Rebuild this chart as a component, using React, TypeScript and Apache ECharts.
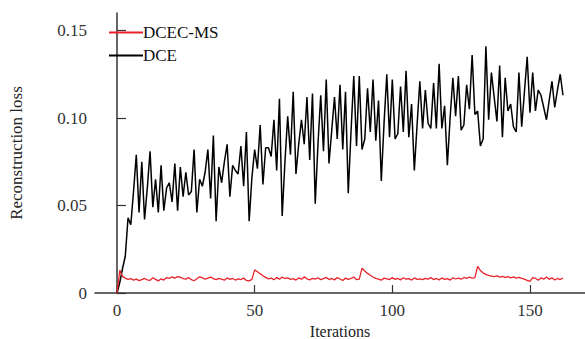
import React, { useEffect, useRef } from "react";
import * as echarts from "echarts";

const iterations: number[] = Array.from({ length: 163 }, (_, i) => i);

const dceLoss: number[] = [
  0, 0.006, 0.014, 0.021, 0.043, 0.039, 0.058, 0.079, 0.046, 0.075,
  0.042, 0.06, 0.081, 0.049, 0.065, 0.046, 0.073, 0.047, 0.06, 0.063,
  0.052, 0.074, 0.047, 0.072, 0.055, 0.069, 0.056, 0.058, 0.082, 0.046,
  0.065, 0.061, 0.069, 0.082, 0.054, 0.09, 0.041, 0.072, 0.063, 0.075,
  0.085, 0.055, 0.073, 0.07, 0.068, 0.084, 0.061, 0.092, 0.041, 0.066,
  0.082, 0.071, 0.096, 0.062, 0.083, 0.083, 0.078, 0.099, 0.07, 0.111,
  0.044, 0.075, 0.101, 0.079, 0.115, 0.068, 0.085, 0.099, 0.085, 0.112,
  0.076, 0.114, 0.051, 0.085, 0.113, 0.081, 0.122, 0.074, 0.093, 0.112,
  0.088, 0.119, 0.082, 0.115, 0.057, 0.092, 0.124, 0.084, 0.124, 0.082,
  0.088, 0.117, 0.092, 0.122, 0.087, 0.11, 0.064, 0.097, 0.125, 0.089,
  0.122, 0.088, 0.091, 0.118, 0.092, 0.127, 0.089, 0.108, 0.07, 0.096,
  0.121, 0.094, 0.116, 0.097, 0.094, 0.12, 0.094, 0.131, 0.094, 0.107,
  0.073, 0.1, 0.123, 0.101, 0.124, 0.093, 0.096, 0.119, 0.105, 0.136,
  0.102, 0.104, 0.084, 0.088, 0.141, 0.099, 0.126, 0.112, 0.098, 0.13,
  0.089, 0.123, 0.104, 0.108, 0.095, 0.092, 0.126, 0.095, 0.115, 0.135,
  0.103, 0.126, 0.104, 0.116, 0.113, 0.106, 0.099, 0.11, 0.121, 0.106,
  0.116, 0.125, 0.113,
];

const dcecMsLoss: number[] = [
  0, 0.013, 0.0095, 0.0085, 0.0078, 0.0082, 0.0074, 0.0079, 0.0071, 0.0077,
  0.0083, 0.0075, 0.0072, 0.0087, 0.0078, 0.0069, 0.0081, 0.0074, 0.0088, 0.0083,
  0.0092, 0.0085, 0.0094, 0.009, 0.0082, 0.0079, 0.0088, 0.0076, 0.007, 0.0081,
  0.0093, 0.0087, 0.0079, 0.0085, 0.0091, 0.0082, 0.0076, 0.0084, 0.0079, 0.0073,
  0.0086, 0.0078, 0.0083, 0.0074, 0.0081, 0.0077, 0.0085, 0.0072, 0.0069, 0.0078,
  0.0132, 0.0121, 0.011, 0.0098, 0.0089, 0.0081, 0.0085, 0.0076, 0.0088, 0.0079,
  0.0091, 0.0083, 0.0087, 0.0078, 0.0082, 0.0074, 0.0086, 0.0079, 0.0092, 0.0081,
  0.0075, 0.0084, 0.0079, 0.0087, 0.0076, 0.0082, 0.0089, 0.0077, 0.0083, 0.0075,
  0.0088, 0.008, 0.0072, 0.0085, 0.0078, 0.0083, 0.0091, 0.0076, 0.0079, 0.0142,
  0.0126, 0.0112, 0.0101, 0.0091, 0.0084, 0.0079, 0.0073, 0.0085, 0.0081, 0.0077,
  0.0088, 0.0078, 0.0083, 0.0075, 0.0087, 0.0079, 0.0082, 0.0074, 0.0086, 0.0078,
  0.0081, 0.0076, 0.0084, 0.0079, 0.0088, 0.0077, 0.0083, 0.0075, 0.0086, 0.0078,
  0.0082, 0.0074, 0.0087, 0.008, 0.0085, 0.0079, 0.0089, 0.0083, 0.0091, 0.0085,
  0.0088, 0.0152, 0.0128, 0.0114, 0.0106, 0.0101, 0.0097, 0.0093, 0.0098, 0.0091,
  0.0095, 0.0089, 0.0093, 0.0087, 0.0092, 0.0085, 0.0089, 0.0083, 0.0079, 0.0072,
  0.0066, 0.0088, 0.0084, 0.0073, 0.0086, 0.0079, 0.0091, 0.0078, 0.0087, 0.0074,
  0.0083, 0.0077, 0.0085,
];

const xTickValues: number[] = [0, 50, 100, 150];
const yTickValues: number[] = [0, 0.05, 0.1, 0.15];

const FONT = "Liberation Serif";

export default function App() {
  const ref = useRef<HTMLDivElement>(null);
  useEffect(() => {
    if (!ref.current) return;
    const chart = echarts.init(ref.current, null, { renderer: "svg" });
    chart.setOption({
      animation: false,
      backgroundColor: "#ffffff",
      textStyle: { fontFamily: FONT, fontSize: 17 },
      grid: { left: 95, right: 0, top: 13, bottom: 46, containLabel: false, outerBoundsMode: "none" },
      legend: {
        orient: "vertical",
        left: 109,
        top: 24,
        padding: 0,
        itemWidth: 34,
        itemHeight: 2,
        itemGap: 6,
        icon: "rect",
        textStyle: { fontFamily: FONT, fontSize: 17, color: "#111", padding: [0, 0, 0, -5] },
        data: ["DCEC-MS", "DCE"],
      },
      xAxis: {
        type: "value",
        min: -8,
        max: 170,
        name: "Iterations",
        nameLocation: "middle",
        nameGap: 25,
        nameTextStyle: { fontFamily: FONT, fontSize: 16, color: "#222", lineHeight: 16 },
        axisLine: { show: true, onZero: false, lineStyle: { color: "#333", width: 1.5 } },
        axisTick: { show: true, inside: true, length: 8, customValues: xTickValues, lineStyle: { color: "#333", width: 1.2 } },
        axisLabel: {
          customValues: xTickValues,
          margin: 9,
          fontFamily: FONT,
          fontSize: 17,
          color: "#333",
          formatter: (v: number) => String(Math.round(v)),
        },
        splitLine: { show: false },
      },
      yAxis: {
        type: "value",
        min: 0,
        max: 0.16,
        name: "Reconstruction loss",
        nameLocation: "middle",
        nameGap: 70,
        nameTextStyle: { fontFamily: FONT, fontSize: 17, color: "#222" },
        axisLine: { show: true, lineStyle: { color: "#333", width: 1.5 } },
        axisTick: { show: true, inside: true, length: 9, customValues: yTickValues, lineStyle: { color: "#333", width: 1.2 } },
        axisLabel: {
          customValues: yTickValues,
          margin: 8,
          fontFamily: FONT,
          fontSize: 17,
          color: "#333",
          formatter: (v: number) => (v === 0 ? "0" : v.toFixed(2)),
        },
        splitLine: { show: false },
      },
      series: [
        {
          name: "DCEC-MS",
          type: "line",
          data: iterations.map((x, i) => [x, dcecMsLoss[i]]),
          showSymbol: false,
          symbol: "none",
          lineStyle: { color: "#e8232a", width: 1.3 },
          itemStyle: { color: "#e8232a" },
          z: 3,
        },
        {
          name: "DCE",
          type: "line",
          data: iterations.map((x, i) => [x, dceLoss[i]]),
          showSymbol: false,
          symbol: "none",
          lineStyle: { color: "#000000", width: 1.5 },
          itemStyle: { color: "#000000" },
          z: 2,
        },
      ],
    });
    return () => chart.dispose();
  }, []);
  return (
    <div
      ref={ref}
      style={{ position: "fixed", left: 0, top: 0, width: 585, height: 339 }}
    />
  );
}
